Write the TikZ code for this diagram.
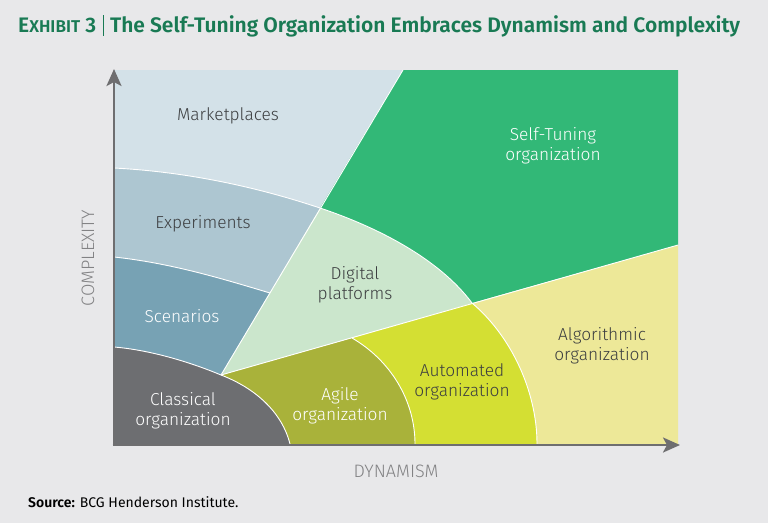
\documentclass[tikz,border=0pt]{standalone}
\usepackage{fontspec}
\setmainfont{Fira Sans Light}[BoldFont={Fira Sans SemiBold}]
\newfontfamily\titlefont{Fira Sans SemiBold}
\newfontfamily\srcfont{Fira Sans}[BoldFont={Fira Sans SemiBold}]
\usetikzlibrary{arrows.meta}

\definecolor{bggray}{RGB}{232,232,234}
\definecolor{titlegreen}{RGB}{25,122,84}
\definecolor{axisgray}{RGB}{110,110,112}
\definecolor{axistext}{RGB}{130,130,132}
\definecolor{labeltext}{RGB}{60,62,64}
\definecolor{marketcol}{RGB}{211,225,232}
\definecolor{expcol}{RGB}{173,198,209}
\definecolor{scencol}{RGB}{119,162,180}
\definecolor{classcol}{RGB}{109,110,113}
\definecolor{agilecol}{RGB}{169,178,58}
\definecolor{autocol}{RGB}{212,223,51}
\definecolor{algocol}{RGB}{237,232,152}
\definecolor{digitalcol}{RGB}{203,230,204}
\definecolor{selfcol}{RGB}{50,184,119}

\begin{document}
\begin{tikzpicture}[x=1pt,y=-1pt,
  border/.style={draw=white, line width=0.9pt},
  darklabel/.style={font=\fontsize{17.3}{20}\selectfont, align=center, text=labeltext},
  whitelabel/.style={darklabel, text=white},
  axislabel/.style={font=\fontsize{18}{20}\selectfont, text=axistext},
  axis/.style={draw=axisgray, line width=2.6pt, -{Stealth[length=17pt,width=15pt,inset=4pt]}}]
\useasboundingbox (0,0) rectangle (768,523);
\fill[bggray] (0,0) rectangle (768,523);

\coordinate (tl) at (114,70);
\coordinate (cut) at (403,70);
\coordinate (tr) at (678,70);
\coordinate (rmid) at (678,245);
\coordinate (br) at (678,444);
\coordinate (bl) at (114,444);
\coordinate (hub) at (221,375);
\coordinate (mid) at (320,208);
\coordinate (tri) at (472,303);
\coordinate (eks) at (270,293);
\coordinate (ag) at (352,338);
\coordinate (lme) at (114,168);
\coordinate (les) at (114,257);
\coordinate (lsc) at (114,347);
\coordinate (bca) at (290,444);
\coordinate (baa) at (415,444);
\coordinate (bal) at (537,444);

% regions
\fill[marketcol] (tl) -- (cut) -- (mid) .. controls (260,188) and (190,172) .. (lme) -- cycle;
\fill[expcol] (lme) .. controls (190,172) and (260,188) .. (mid) -- (eks)
  .. controls (220,278) and (170,263) .. (les) -- cycle;
\fill[scencol] (les) .. controls (170,263) and (220,278) .. (eks) -- (hub)
  .. controls (190,362) and (150,350) .. (lsc) -- cycle;
\fill[classcol] (lsc) .. controls (150,350) and (190,362) .. (hub)
  .. controls (255,388) and (282,412) .. (bca) -- (bl) -- cycle;
\fill[agilecol] (hub) -- (ag) .. controls (390,360) and (415,400) .. (baa) -- (bca)
  .. controls (282,412) and (255,388) .. (hub) -- cycle;
\fill[autocol] (ag) -- (tri) .. controls (510,335) and (537,390) .. (bal) -- (baa)
  .. controls (415,400) and (390,360) .. (ag) -- cycle;
\fill[algocol] (tri) -- (rmid) -- (br) -- (bal) .. controls (537,390) and (510,335) .. (tri) -- cycle;
\fill[digitalcol] (mid) .. controls (380,228) and (440,260) .. (tri) -- (hub) -- cycle;
\fill[selfcol] (cut) -- (tr) -- (rmid) -- (tri) .. controls (440,260) and (380,228) .. (mid) -- cycle;

% borders
\draw[border] (cut) -- (hub);
\draw[border] (hub) -- (rmid);
\draw[border] (lme) .. controls (190,172) and (260,188) .. (mid);
\draw[border] (les) .. controls (170,263) and (220,278) .. (eks);
\draw[border] (lsc) .. controls (150,350) and (190,362) .. (hub);
\draw[border] (hub) .. controls (255,388) and (282,412) .. (bca);
\draw[border] (ag) .. controls (390,360) and (415,400) .. (baa);
\draw[border] (tri) .. controls (510,335) and (537,390) .. (bal);
\draw[border] (mid) .. controls (380,228) and (440,260) .. (tri);

% axes
\coordinate (O) at (114,445.3);
\coordinate (ytop) at (114,69);
\coordinate (xend) at (680,445);
\draw[axis] (O) -- (ytop);
\draw[axis] (112.7,445) -- (xend);

\node[darklabel]  (market)  at (228,116) {Marketplaces};
\node[darklabel]  (exp)     at (203,224) {Experiments};
\node[whitelabel] (scen)    at (182,316) {Scenarios};
\node[whitelabel] (class)   at (183,411) {Classical\\organization};
\node[whitelabel] (agile)   at (340,406) {Agile\\organization};
\node[darklabel]  (digital) at (355,285) {Digital\\platforms};
\node[whitelabel] (self)    at (553,146) {Self-Tuning\\organization};
\node[darklabel]  (auto)    at (462,382) {Automated\\organization};
\node[darklabel]  (algo)    at (602,346) {Algorithmic\\organization};

\node[axislabel, rotate=90] (ylab) at (88,258) {COMPLEXITY};
\node[axislabel]            (xlab) at (396,471) {DYNAMISM};

\node[anchor=base west, inner sep=0pt, text=titlegreen] (title) at (18,32.7)
  {\titlefont\fontsize{21}{24}\selectfont E{\fontsize{17.1}{20}\selectfont XHIBIT} 3\hspace{2pt}
  \rule[-3pt]{0.8pt}{21pt}\hspace{6pt}The Self-Tuning Organization Embraces Dynamism and Complexity};
\node[anchor=base west, inner sep=0pt, font=\srcfont\fontsize{14}{16}\selectfont] (src) at (28,507)
  {\textbf{Source:} BCG Henderson Institute.};
\end{tikzpicture}
\end{document}
